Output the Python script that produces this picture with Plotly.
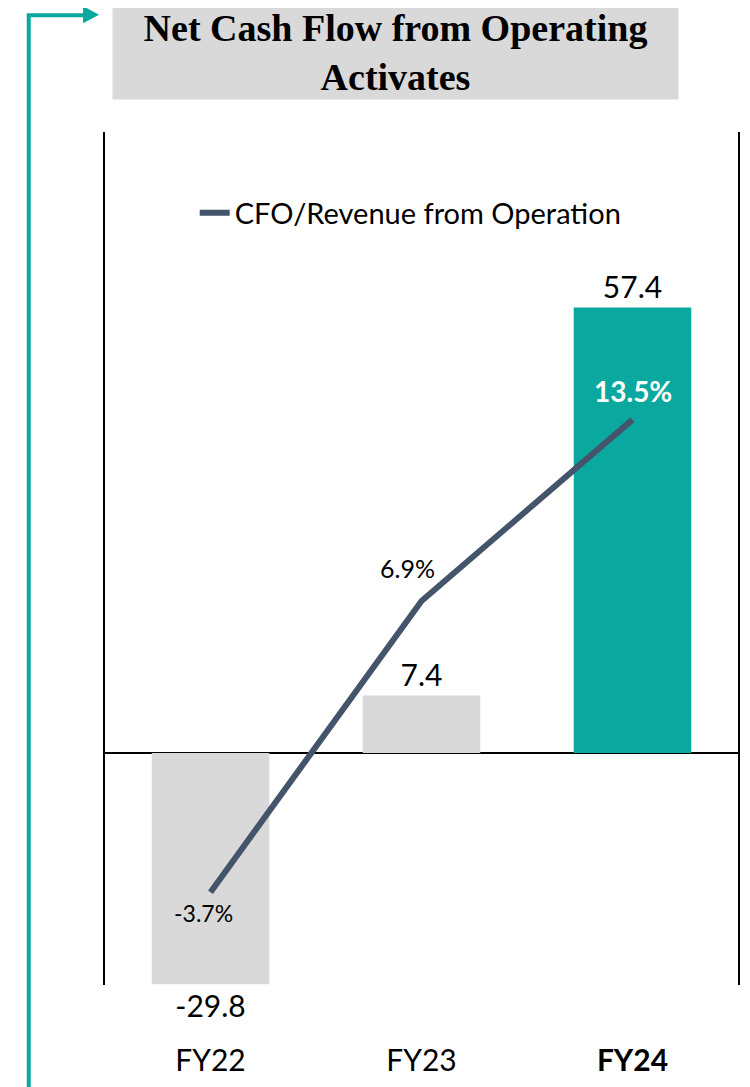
import plotly.graph_objects as go

categories = ["FY22", "FY23", "FY24"]
tick_labels = ["FY22", "FY23", "<b>FY24</b>"]
cfo_values = [-29.8, 7.4, 57.4]
cfo_labels = ["-29.8", "7.4", "57.4"]
cfo_ratio = [-3.7, 6.9, 13.5]
ratio_labels = ["-3.7%", "6.9%", "<b>13.5%</b>"]

bar_colors = ["#D9D9D9", "#D9D9D9", "#0AA89E"]
TEAL = "#0AA89E"
LINE = "#44546A"
FONT = "Lato"

# page body has an 8px margin, so the figure is drawn 8px smaller
W, H = 742, 1079
L, R, T, B = 97, 10, 124, 101
PW, PH = W - L - R, H - T - B


# helpers: reference-image pixel -> paper coordinates
def px(x):
    return (x - 105) / PW


def py(y):
    return (986 - y) / PH


xs = list(range(len(categories)))

fig = go.Figure()
fig.add_trace(go.Bar(
    x=xs, y=cfo_values, marker=dict(color=bar_colors, line=dict(width=0)),
    width=0.557, text=cfo_labels, textposition="outside",
    textfont=dict(family=FONT, size=30, color="#000000"),
    cliponaxis=False, showlegend=False, hoverinfo="skip",
))
fig.add_trace(go.Scatter(
    x=xs, y=cfo_ratio, yaxis="y2", mode="lines",
    line=dict(color=LINE, width=6),
    name="CFO/Revenue from Operation",
))

# line labels
offsets = [(-7, -21), (-14, 33), (0, 29)]
colors = ["#000000", "#000000", "#FFFFFF"]
sizes = [23, 25, 28]
for i, (lab, v) in enumerate(zip(ratio_labels, cfo_ratio)):
    fig.add_annotation(
        x=xs[i], y=v, xref="x", yref="y2", text=lab, showarrow=False,
        xshift=offsets[i][0], yshift=offsets[i][1],
        font=dict(family=FONT, size=sizes[i], color=colors[i]),
    )

# title box
fig.add_annotation(
    x=px(396.5), y=py(52.5), xref="paper", yref="paper",
    xanchor="center", yanchor="middle",
    text="<b>Net Cash Flow from Operating<br>Activates</b>", showarrow=False,
    font=dict(family="Liberation Serif", size=38, color="#000000"),
    bgcolor="#D9D9D9", width=563, height=91, align="center",
)

# teal arrow decoration
fig.add_shape(type="path", xref="paper", yref="paper",
              path=f"M {px(28.5)} {py(1095)} L {px(28.5)} {py(15)} L {px(85)} {py(15)}",
              line=dict(color=TEAL, width=4))
fig.add_shape(type="path", xref="paper", yref="paper",
              path=f"M {px(83)} {py(6)} L {px(99)} {py(14.5)} L {px(83)} {py(23)} Z",
              fillcolor=TEAL, line=dict(color=TEAL, width=0))

fig.update_layout(
    width=W, height=H,
    margin=dict(l=L, r=R, t=T, b=B),
    paper_bgcolor="white", plot_bgcolor="white",
    font=dict(family=FONT, color="#000000"),
    showlegend=True,
    legend=dict(x=px(195), y=py(213), xanchor="left", yanchor="middle",
                font=dict(family=FONT, size=29, color="#000000"),
                bgcolor="rgba(0,0,0,0)"),
    xaxis=dict(range=[-0.5, 2.5], tickvals=xs, ticktext=tick_labels,
               tickfont=dict(family=FONT, size=30, color="#000000"),
               showgrid=False, zeroline=False, showline=False,
               ticks="", ticklabelstandoff=55),
    yaxis=dict(range=[-29.9, 80.0], showgrid=False, showticklabels=False,
               zeroline=True, zerolinecolor="#000000", zerolinewidth=1.5,
               showline=True, mirror=True, linecolor="#000000", linewidth=1.5,
               ticks=""),
    yaxis2=dict(range=[-7.08, 23.97], overlaying="y", side="right",
                visible=False, showgrid=False, zeroline=False),
)

fig.write_html("out.html")
